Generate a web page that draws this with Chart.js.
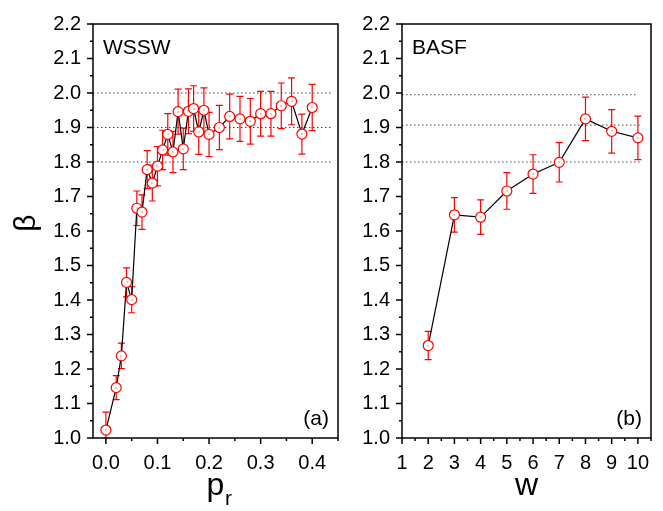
<!DOCTYPE html>
<html>
<head>
<meta charset="utf-8">
<script src="https://cdn.jsdelivr.net/npm/chart.js@4.4.1/dist/chart.umd.min.js"></script>
<style>
  body { margin: 0; background: #fff; }
  #wrap { position: relative; width: 663px; height: 511px; }
  canvas { position: absolute; top: 0; }
  #left { left: 0; }
  #right { left: 345px; }
</style>
</head>
<body>
<div id="wrap">
  <canvas id="left" width="345" height="511"></canvas>
  <canvas id="right" width="318" height="511"></canvas>
</div>
<script>
// panel (a) WSSW: beta vs p_r
const prValues = [0.00, 0.02, 0.03, 0.04, 0.05, 0.06, 0.07, 0.08, 0.09, 0.10,
                  0.11, 0.12, 0.13, 0.14, 0.15, 0.16, 0.17, 0.18, 0.19, 0.20,
                  0.22, 0.24, 0.26, 0.28, 0.30, 0.32, 0.34, 0.36, 0.38, 0.40];
const betaWssw = [1.023, 1.146, 1.238, 1.451, 1.401, 1.666, 1.655, 1.778, 1.739, 1.788,
                  1.835, 1.880, 1.829, 1.946, 1.838, 1.947, 1.955, 1.887, 1.950, 1.880,
                  1.900, 1.932, 1.925, 1.918, 1.940, 1.940, 1.963, 1.976, 1.881, 1.958];
const errWssw = [0.052, 0.035, 0.037, 0.042, 0.038, 0.050, 0.050, 0.055, 0.052, 0.057,
                 0.057, 0.060, 0.060, 0.065, 0.060, 0.065, 0.066, 0.065, 0.065, 0.064,
                 0.064, 0.065, 0.065, 0.066, 0.065, 0.065, 0.066, 0.068, 0.058, 0.067];
const refWssw = [2.0, 1.9, 1.8];
const refEndWssw = [0.44, 0.44, 0.44];

// panel (b) BASF: beta vs w
const wValues = [2, 3, 4, 5, 6, 7, 8, 9, 10];
const betaBasf = [1.268, 1.647, 1.640, 1.716, 1.765, 1.799, 1.925, 1.889, 1.870];
const errBasf = [0.041, 0.050, 0.050, 0.053, 0.056, 0.057, 0.063, 0.063, 0.063];
const refBasf = [1.995, 1.907, 1.80];
const refEndBasf = [10.0, 10.15, 10.15];

// tick labels
const betaTicks = [1.0, 1.1, 1.2, 1.3, 1.4, 1.5, 1.6, 1.7, 1.8, 1.9, 2.0, 2.1, 2.2];
const prTicks = [0.0, 0.1, 0.2, 0.3, 0.4];
const wTicks = [1, 2, 3, 4, 5, 6, 7, 8, 9, 10];

const FONT = "'Liberation Sans', Arial, sans-serif";
const RED = '#ff0000';

// frame + major/minor tick marks (Origin style)
const frameTicks = {
  id: 'frameTicks',
  afterDraw(chart) {
    const { ctx, chartArea: a, scales } = chart;
    ctx.save();
    ctx.strokeStyle = '#000';
    ctx.lineWidth = 1.5;
    ctx.strokeRect(a.left, a.top, a.right - a.left, a.bottom - a.top);
    ctx.beginPath();
    ['x', 'y'].forEach((id) => {
      const s = scales[id];
      const vals = s.ticks.map((t) => t.value);
      const step = vals[1] - vals[0];
      for (let i = -1; i < vals.length; i++) {
        const marks = [];
        if (i >= 0) marks.push([vals[i], 6]);
        marks.push([vals[0] + (i + 0.5) * step, 3]);
        marks.forEach(([v, len]) => {
          if (v < s.min - 1e-9 || v > s.max + 1e-9) return;
          const p = s.getPixelForValue(v);
          if (id === 'x') {
            ctx.moveTo(p, a.bottom);
            ctx.lineTo(p, a.bottom + len);
          } else {
            ctx.moveTo(a.left, p);
            ctx.lineTo(a.left - len, p);
          }
        });
      }
    });
    ctx.stroke();
    ctx.restore();
  }
};

// vertical error bars under the markers
const errorBars = {
  id: 'errorBars',
  beforeDatasetsDraw(chart) {
    const { ctx, chartArea: a, scales: { x, y } } = chart;
    const ds = chart.data.datasets[0];
    ctx.save();
    ctx.beginPath();
    ctx.rect(a.left, a.top, a.right - a.left, a.bottom - a.top);
    ctx.clip();
    ctx.strokeStyle = RED;
    ctx.lineWidth = 1.2;
    ctx.beginPath();
    ds.data.forEach((pt, i) => {
      const px = x.getPixelForValue(pt.x);
      const top = y.getPixelForValue(pt.y + ds.errors[i]);
      const bot = y.getPixelForValue(pt.y - ds.errors[i]);
      ctx.moveTo(px, top); ctx.lineTo(px, bot);
      ctx.moveTo(px - 3.5, top); ctx.lineTo(px + 3.5, top);
      ctx.moveTo(px - 3.5, bot); ctx.lineTo(px + 3.5, bot);
    });
    ctx.stroke();
    ctx.restore();
  },
  afterDatasetsDraw(chart) {
    // small dot in the centre of each open circle
    const { ctx } = chart;
    ctx.save();
    ctx.fillStyle = RED;
    chart.getDatasetMeta(0).data.forEach((el) => {
      ctx.fillRect(Math.round(el.x) - 0.5, Math.round(el.y) - 0.5, 1, 1);
    });
    ctx.restore();
  }
};

// axis titles and panel labels
const labels = {
  id: 'labels',
  afterDraw(chart, args, o) {
    const { ctx, chartArea: a } = chart;
    const cx = (a.left + a.right) / 2;
    ctx.save();
    ctx.fillStyle = '#000';
    ctx.textBaseline = 'alphabetic';
    ctx.font = '32px ' + FONT;
    const mainW = ctx.measureText(o.xTitle).width;
    ctx.textAlign = 'center';
    ctx.fillText(o.xTitle, cx, a.bottom + 57);
    if (o.xSub) {
      ctx.font = '21px ' + FONT;
      ctx.textAlign = 'left';
      ctx.fillText(o.xSub, cx + mainW / 2 + 0.5, a.bottom + 67);
    }
    if (o.yTitle) {
      ctx.save();
      ctx.font = '30px ' + FONT;
      ctx.textAlign = 'center';
      ctx.textBaseline = 'middle';
      ctx.translate(27, (a.top + a.bottom) / 2 - 8);
      ctx.rotate(-Math.PI / 2);
      ctx.fillText(o.yTitle, 0, 0);
      ctx.restore();
    }
    ctx.font = '21px ' + FONT;
    ctx.textBaseline = 'middle';
    ctx.textAlign = 'left';
    ctx.fillText(o.name, a.left + 10, a.top + 24);
    ctx.textAlign = 'right';
    ctx.fillText(o.tag, a.right - 9, a.bottom - 19);
    ctx.restore();
  }
};

function makeChart(canvasId, cfg) {
  const datasets = [{
    data: cfg.xs.map((x, i) => ({ x, y: cfg.ys[i] })),
    errors: cfg.errs,
    borderColor: '#000',
    borderWidth: 1.2,
    pointRadius: 5,
    pointBorderWidth: 1.2,
    pointBorderColor: RED,
    pointBackgroundColor: '#fff',
    tension: 0
  }];
  cfg.refs.forEach((lvl, i) => {
    datasets.push({
      data: [{ x: cfg.xMin, y: lvl }, { x: cfg.refEnds[i], y: lvl }],
      borderColor: '#444',
      borderWidth: 1,
      borderDash: [1.5, 2.5],
      pointRadius: 0
    });
  });
  return new Chart(document.getElementById(canvasId), {
    type: 'line',
    data: { datasets },
    options: {
      responsive: false,
      animation: false,
      layout: { padding: { left: 0, top: 21, right: cfg.padRight, bottom: 0 } },
      plugins: {
        legend: { display: false },
        tooltip: { enabled: false },
        labels: cfg.labels
      },
      scales: {
        x: {
          type: 'linear',
          min: cfg.xMin,
          max: cfg.xMax,
          afterBuildTicks: (s) => { s.ticks = cfg.xTicks.map((v) => ({ value: v })); },
          afterFit: (s) => { s.height = 73; },
          grid: { display: false, drawTicks: false },
          border: { display: false },
          ticks: {
            padding: 13,
            color: '#000',
            maxRotation: 0,
            font: { family: FONT, size: 20 },
            callback: cfg.xFmt
          }
        },
        y: {
          type: 'linear',
          min: 1.0,
          max: 2.2,
          afterBuildTicks: (s) => { s.ticks = betaTicks.map((v) => ({ value: v })); },
          afterFit: (s) => { s.width = cfg.yWidth; },
          grid: { display: false, drawTicks: false },
          border: { display: false },
          ticks: {
            padding: 12,
            color: '#000',
            font: { family: FONT, size: 20 },
            callback: (v) => Number(v).toFixed(1)
          }
        }
      }
    },
    plugins: [errorBars, frameTicks, labels]
  });
}

makeChart('left', {
  xs: prValues, ys: betaWssw, errs: errWssw,
  refs: refWssw, refEnds: refEndWssw,
  xMin: -0.025, xMax: 0.45, xTicks: prTicks,
  xFmt: (v) => Number(v).toFixed(1),
  yWidth: 93, padRight: 7,
  labels: { xTitle: 'p', xSub: 'r', yTitle: '\u03B2', name: 'WSSW', tag: '(a)' }
});

makeChart('right', {
  xs: wValues, ys: betaBasf, errs: errBasf,
  refs: refBasf, refEnds: refEndBasf,
  xMin: 1, xMax: 10.5, xTicks: wTicks,
  xFmt: (v) => String(v),
  yWidth: 57, padRight: 12,
  labels: { xTitle: 'w', xSub: '', yTitle: '', name: 'BASF', tag: '(b)' }
});
</script>
</body>
</html>
